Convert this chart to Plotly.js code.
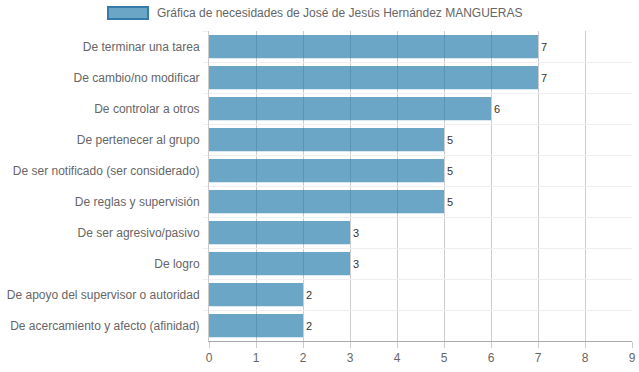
<!DOCTYPE html>
<html><head><meta charset="utf-8">
<script src="https://cdn.plot.ly/plotly-3.0.1.min.js"></script>
<style>html,body{margin:0;padding:0;background:#fff}#chart{width:639px;height:372px}</style>
</head><body><div id="chart"></div>
<script>
var categories = ["De terminar una tarea","De cambio/no modificar","De controlar a otros","De pertenecer al grupo","De ser notificado (ser considerado)","De reglas y supervisión","De ser agresivo/pasivo","De logro","De apoyo del supervisor o autoridad","De acercamiento y afecto (afinidad)"];
var values = [7,7,6,5,5,5,3,3,2,2];
var seriesName = "Gráfica de necesidades de José de Jesús Hernández MANGUERAS";

var trace = {
  type: 'bar', orientation: 'h', x: values, y: categories,
  width: 0.75,
  marker: {color: 'rgba(36,122,170,0.67)', line: {width: 0}},
  text: values.map(String), textposition: 'outside', cliponaxis: false,
  textfont: {family: 'Liberation Sans, Arial, sans-serif', size: 11, color: '#333'},
  hoverinfo: 'none', showlegend: false
};
var layout = {
  width: 639, height: 372,
  margin: {l: 209, r: 7, t: 31, b: 31},
  paper_bgcolor: '#fff', plot_bgcolor: '#fff',
  font: {family: 'Liberation Sans, Arial, sans-serif', size: 12, color: '#666'},
  bargap: 0.25,
  xaxis: {range: [0, 9], dtick: 1, tick0: 0, showgrid: true, gridcolor: '#cccccc', gridwidth: 1,
    zeroline: false, showline: true, linecolor: '#aaaaaa', ticks: 'outside', ticklen: 6, tickcolor: '#cccccc',
    tickfont: {size: 12, color: '#666'}, fixedrange: true},
  yaxis: {type: 'category', autorange: 'reversed', tickson: 'boundaries', showgrid: true, gridcolor: '#eeeeee',
    showline: true, linecolor: '#cccccc', ticks: 'outside', ticklen: 5, tickcolor: '#eeeeee',
    tickfont: {size: 12, color: '#666'}, ticklabelstandoff: 6, fixedrange: true},
  shapes: [{type: 'rect', xref: 'paper', yref: 'paper', xsizemode: 'pixel', ysizemode: 'pixel',
    xanchor: 0, yanchor: 1, x0: -101, x1: -61, y0: 24, y1: 12,
    fillcolor: 'rgba(36,122,170,0.67)', line: {color: 'rgb(54,124,170)', width: 2}}],
  annotations: [{xref: 'paper', yref: 'paper', x: 0, y: 1, xshift: -54, yshift: 18, xanchor: 'left', yanchor: 'middle',
    text: seriesName, showarrow: false, font: {size: 12, color: '#666'}}]
};
Plotly.newPlot('chart', [trace], layout, {displayModeBar: false, staticPlot: true});
</script></body></html>
